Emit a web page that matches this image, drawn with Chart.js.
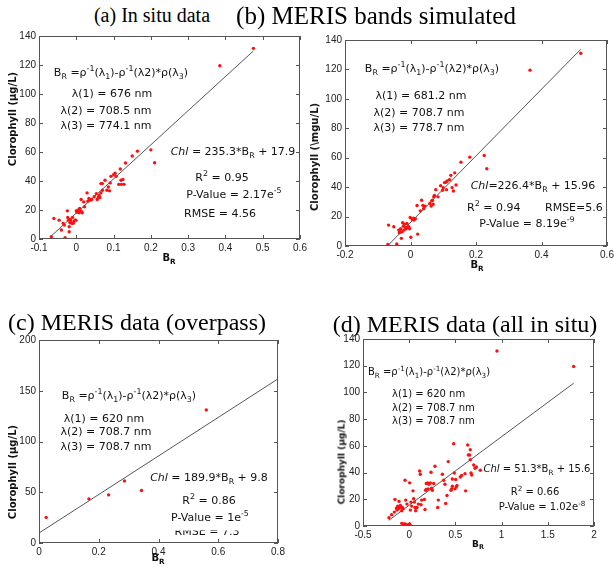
<!DOCTYPE html>
<html><head><meta charset="utf-8">
<script src="https://cdn.jsdelivr.net/npm/chart.js@4/dist/chart.umd.min.js"></script>
<style>
html,body{margin:0;padding:0;background:#fff;}
#page{position:relative;width:614px;height:569px;overflow:hidden;background:#fff;}
canvas{position:absolute;}
.t{position:absolute;white-space:nowrap;line-height:1;color:#111;width:max-content;}
.title{font-family:"Liberation Serif",serif;color:#000;}
.ann{font-family:"DejaVu Sans",sans-serif;}
.yt{font-family:"DejaVu Sans",sans-serif;font-weight:bold;}
sub,sup{font-size:72%;line-height:0;}
</style></head>
<body><div id="page"></div>
<script>
// ---------- DATA ----------
// (a) In situ data
const aBR  = [-0.067,-0.060,-0.046,-0.040,-0.035,-0.032,-0.030,-0.024,-0.023,-0.021,-0.019,-0.019,-0.017,-0.016,-0.014,-0.012,-0.010,-0.008,-0.005,-0.003,-0.001,0.000,0.002,0.004,0.008,0.009,0.013,0.016,0.013,0.020,0.022,0.029,0.031,0.034,0.038,0.041,0.048,0.054,0.056,0.059,0.061,0.063,0.066,0.070,0.066,0.070,0.077,0.082,0.086,0.089,0.091,0.093,0.100,0.104,0.107,0.114,0.118,0.120,0.121,0.125,0.128,0.132,0.150,0.164,0.200,0.210,0.385,0.475];
const aChl = [1.6,14.2,13.0,6.2,10.8,9.6,0.9,19.4,14.9,13.0,8.5,5.0,11.2,13.5,12.1,10.8,14.9,10.8,12.4,13.0,13.0,19.4,18.5,19.9,18.1,21.0,19.2,18.1,27.2,25.6,22.2,31.8,26.1,27.9,26.8,27.2,29.1,31.3,27.2,28.6,30.0,28.6,31.8,33.6,38.2,38.2,40.5,33.6,35.9,33.2,38.7,43.2,44.4,45.3,43.2,37.7,48.3,40.5,37.7,41.0,37.7,52.4,57.2,60.6,61.5,52.6,119.5,131.5];
const aFitBR = [-0.07, 0.475];
const aFitChl = [1.4, 129.7];
const aXTicks = [-0.1,0,0.1,0.2,0.3,0.4,0.5,0.6];
const aYTicks = [0,20,40,60,80,100,120,140];

// (b) MERIS bands simulated
const bBR  = [-0.069,-0.067,-0.051,-0.042,-0.040,-0.036,-0.034,-0.032,-0.030,-0.028,-0.026,-0.024,-0.022,-0.020,-0.018,-0.015,-0.013,-0.011,-0.009,-0.005,-0.003,-0.001,0.001,0.005,0.009,0.011,0.015,0.022,0.020,0.030,0.034,0.038,0.044,0.040,0.059,0.063,0.065,0.067,0.069,0.071,0.073,0.077,0.084,0.092,0.098,0.100,0.104,0.108,0.112,0.110,0.119,0.123,0.127,0.131,0.135,0.139,0.154,0.181,0.225,0.233,0.365,0.520];
const bChl = [1.1,14.2,13.1,1.4,0.0,10.8,9.0,9.7,11.7,5.2,9.7,15.8,13.5,10.8,14.9,12.6,11.7,15.3,12.6,13.1,11.7,19.4,5.9,18.0,18.9,17.6,18.5,8.1,27.5,23.9,31.1,27.5,27.1,25.3,28.9,27.1,30.7,31.1,28.4,33.4,34.3,38.3,33.4,41.0,37.9,39.7,43.1,43.3,44.2,38.3,45.1,48.0,39.7,37.4,49.7,41.5,57.0,60.4,61.5,52.5,119.5,131.0];
const bFitBR = [-0.07, 0.52];
const bFitChl = [0.1, 133.7];
const bXTicks = [-0.2,0,0.2,0.4,0.6];
const bYTicks = [0,20,40,60,80,100,120,140];

// (c) MERIS data (overpass)
const cBR  = [0.024,0.167,0.233,0.286,0.343,0.560];
const cChl = [25.2,43.5,47.4,61.2,51.7,131.0];
const cFitBR = [0, 0.8];
const cFitChl = [9.8, 161.7];
const cXTicks = [0,0.2,0.4,0.6,0.8];
const cYTicks = [0,50,100,150,200];

// (d) MERIS data (all in situ)
const dBR  = [-0.219,-0.190,-0.161,-0.154,-0.139,-0.132,-0.125,-0.118,-0.110,-0.103,-0.096,-0.089,-0.081,-0.074,-0.067,-0.045,-0.038,-0.024,0.005,0.012,0.019,0.027,0.041,0.048,0.056,0.063,0.070,0.084,0.099,0.113,0.120,0.128,0.135,0.164,0.171,0.178,0.185,0.185,0.200,0.207,0.214,0.229,0.236,0.243,0.250,0.265,0.279,0.308,0.315,0.359,0.373,0.387,0.395,0.409,0.423,0.452,0.460,0.467,0.467,0.481,0.488,0.496,0.503,0.510,0.517,0.553,0.568,0.604,0.611,0.633,0.640,0.654,0.661,0.661,0.669,0.676,0.698,0.712,0.727,0.770,-0.081,-0.060,-0.045,-0.024,-0.009,0.005,0.012,0.950,1.780];
const dChl = [6.2,8.4,10.4,19.9,13.4,11.9,14.9,12.9,18.4,13.9,15.4,14.4,11.4,13.9,12.9,34.3,19.4,16.4,32.3,11.9,17.9,14.9,26.3,20.4,17.9,13.9,11.4,13.9,16.4,41.2,38.7,15.9,19.4,19.9,12.4,26.8,27.3,31.8,32.3,27.8,31.3,32.3,40.2,28.3,26.8,31.8,44.7,13.9,19.4,38.7,34.3,31.3,16.9,22.8,48.2,26.8,27.8,35.2,29.8,61.6,39.7,27.8,34.8,29.3,30.3,36.7,37.9,39.2,26.3,60.6,53.1,53.1,57.1,49.6,39.7,38.2,45.7,43.2,44.2,41.7,2.0,1.5,1.5,1.0,0.5,1.5,0.5,131.0,119.5];
const dFitBR = [-0.22, 1.78];
const dFitChl = [4.3, 106.9];
const dXTicks = [-0.5,0,0.5,1,1.5,2];
const dYTicks = [0,20,40,60,80,100,120,140];

// ---------- LAYOUT ----------
const PAD_L = 30, PAD_T = 8, PAD_R = 14, PAD_B = 18;
const page = document.getElementById('page');

const frame = {
  id: 'frame',
  afterDraw(chart) {
    const {ctx, chartArea: a, scales} = chart;
    ctx.save();
    ctx.strokeStyle = '#555';
    ctx.lineWidth = 1;
    ctx.strokeRect(a.left + 0.5, a.top + 0.5, a.right - a.left - 1, a.bottom - a.top - 1);
    const tl = 4;
    ctx.beginPath();
    scales.x.ticks.forEach(t => {
      const p = Math.round(scales.x.getPixelForValue(t.value)) + 0.5;
      ctx.moveTo(p, a.bottom); ctx.lineTo(p, a.bottom - tl);
      ctx.moveTo(p, a.top); ctx.lineTo(p, a.top + tl);
    });
    scales.y.ticks.forEach(t => {
      const p = Math.round(scales.y.getPixelForValue(t.value)) + 0.5;
      ctx.moveTo(a.left, p); ctx.lineTo(a.left + tl, p);
      ctx.moveTo(a.right, p); ctx.lineTo(a.right - tl, p);
    });
    ctx.stroke();
    ctx.restore();
  }
};

function makePanel(rect, xs, ys, fx, fy, xt, yt) {
  const [L, T, R, B] = rect;
  const cv = document.createElement('canvas');
  const w = (R - L) + PAD_L + PAD_R, h = (B - T) + PAD_T + PAD_B;
  cv.width = w; cv.height = h;
  cv.style.left = (L - PAD_L) + 'px';
  cv.style.top = (T - PAD_T) + 'px';
  cv.style.width = w + 'px'; cv.style.height = h + 'px';
  page.appendChild(cv);
  const tickFont = {family: '"Liberation Sans", Arial, sans-serif', size: 10};
  new Chart(cv.getContext('2d'), {
    data: {
      datasets: [
        {type: 'scatter', data: xs.map((x, i) => ({x, y: ys[i]})),
         pointRadius: 1.7, pointBackgroundColor: '#ff1010', pointBorderWidth: 0, pointHoverRadius: 1.7},
        {type: 'line', data: fx.map((x, i) => ({x, y: fy[i]})),
         borderColor: '#555', borderWidth: 1, pointRadius: 0, fill: false, tension: 0}
      ]
    },
    options: {
      responsive: false, animation: false, devicePixelRatio: 1,
      layout: {padding: {left: 0, top: PAD_T, right: PAD_R, bottom: 0}, autoPadding: false},
      plugins: {legend: {display: false}, tooltip: {enabled: false}},
      events: [],
      scales: {
        x: {type: 'linear', min: xt[0], max: xt[xt.length - 1],
            afterBuildTicks: s => { s.ticks = xt.map(v => ({value: v})); },
            afterFit: s => { s.height = PAD_B; },
            grid: {display: false, drawTicks: false}, border: {display: false},
            ticks: {font: tickFont, color: '#222', padding: 3, maxRotation: 0, autoSkip: false, callback: v => String(v)}},
        y: {type: 'linear', min: yt[0], max: yt[yt.length - 1],
            afterBuildTicks: s => { s.ticks = yt.map(v => ({value: v})); },
            afterFit: s => { s.width = PAD_L; },
            grid: {display: false, drawTicks: false}, border: {display: false},
            ticks: {font: tickFont, color: '#222', padding: 3, autoSkip: false, callback: v => String(v)}}
      }
    },
    plugins: [frame]
  });
}

makePanel([39, 35, 300, 239], aBR, aChl, aFitBR, aFitChl, aXTicks, aYTicks);
makePanel([345, 39, 607, 246], bBR, bChl, bFitBR, bFitChl, bXTicks, bYTicks);
makePanel([39, 339, 278, 543], cBR, cChl, cFitBR, cFitChl, cXTicks, cYTicks);
makePanel([363, 338, 594, 526], dBR, dChl, dFitBR, dFitChl, dXTicks, dYTicks);

// ---------- TEXT ----------
function txt(html, x, y, cls, size, opts = {}) {
  const d = document.createElement('div');
  d.className = 't ' + cls;
  d.innerHTML = html;
  d.style.fontSize = size + 'px';
  d.style.left = x + 'px';
  d.style.top = y + 'px';
  let tf = opts.left ? 'translate(0,-50%)' : 'translate(-50%,-50%)';
  if (opts.rot) tf += ' rotate(-90deg)';
  d.style.transform = tf;
  if (opts.italic) d.style.fontStyle = 'italic';
  if (opts.clip) d.style.clipPath = opts.clip;
  page.appendChild(d);
}
const EQ = 'B<sub>R</sub> =&rho;<sup>-1</sup>(&lambda;<sub>1</sub>)-&rho;<sup>-1</sup>(&lambda;2)*&rho;(&lambda;<sub>3</sub>)';
const CHL = '<i>Chl</i>';

// titles
txt('(a) In situ data', 152, 15, 'title', 20);
txt('(b) MERIS bands simulated', 376, 15, 'title', 25);
txt('(c) MERIS data (overpass)', 137, 322, 'title', 24);
txt('(d) MERIS data (all in situ)', 465, 324, 'title', 24);

// axis titles
txt('Clorophyll (&mu;g/L)', 13, 119, 'yt', 10, {rot: true});
txt('Clorophyll (\\mgu/L)', 315, 157, 'yt', 10, {rot: true});
txt('Clorophyll (&mu;g/L)', 13, 472, 'yt', 10, {rot: true});
txt('Clorophyll (&mu;g/L)', 342, 462, 'yt', 9, {rot: true});
txt('B<sub>R</sub>', 169, 258, 'yt', 10);
txt('B<sub>R</sub>', 477, 265, 'yt', 10);
txt('B<sub>R</sub>', 158, 558, 'yt', 10);
txt('B<sub>R</sub>', 478, 544, 'yt', 9);

// panel a
txt(EQ, 121, 72, 'ann', 11);
txt('&lambda;(1) = 676 nm', 112, 93, 'ann', 11);
txt('&lambda;(2) = 708.5 nm', 106, 110, 'ann', 11);
txt('&lambda;(3) = 774.1 nm', 106, 124.5, 'ann', 11);
txt(CHL + ' = 235.3*B<sub>R</sub> + 17.9', 233, 151, 'ann', 11);
txt('R<sup>2</sup> = 0.95', 222, 177, 'ann', 11);
txt('P-Value = 2.17e<sup>-5</sup>', 234, 194, 'ann', 11);
txt('RMSE = 4.56', 220, 213, 'ann', 11);

// panel b
txt(EQ, 432, 68, 'ann', 11);
txt('&lambda;(1) = 681.2 nm', 421, 95, 'ann', 11);
txt('&lambda;(2) = 708.7 nm', 419, 112, 'ann', 11);
txt('&lambda;(3) = 778.7 nm', 419, 127, 'ann', 11);
txt(CHL + '=226.4*B<sub>R</sub> + 15.96', 533, 185, 'ann', 11);
txt('R<sup>2</sup> = 0.94', 467, 207, 'ann', 11, {left: true});
txt('RMSE=5.6', 545, 207, 'ann', 11, {left: true});
txt('P-Value = 8.19e<sup>-9</sup>', 527, 223, 'ann', 11);

// panel c
txt(EQ, 129, 395, 'ann', 11);
txt('&lambda;(1) = 620 nm', 104, 418, 'ann', 11);
txt('&lambda;(2) = 708.7 nm', 106, 431, 'ann', 11);
txt('&lambda;(3) = 708.7 nm', 106, 446, 'ann', 11);
txt(CHL + ' = 189.9*B<sub>R</sub> + 9.8', 209, 477, 'ann', 11);
txt('R<sup>2</sup> = 0.86', 209, 500, 'ann', 11);
txt('P-Value = 1e<sup>-5</sup>', 210, 517, 'ann', 11);
txt('RMSE = 7.3', 207, 531, 'ann', 11, {clip: 'inset(45% 0 0 0)'});

// panel d
txt(EQ, 429, 372, 'ann', 10);
txt('&lambda;(1) = 620 nm', 392, 394, 'ann', 10, {left: true});
txt('&lambda;(2) = 708.7 nm', 392, 408, 'ann', 10, {left: true});
txt('&lambda;(3) = 708.7 nm', 392, 421, 'ann', 10, {left: true});
txt(CHL + ' = 51.3*B<sub>R</sub> + 15.6', 537, 469, 'ann', 10);
txt('R<sup>2</sup> = 0.66', 535, 492, 'ann', 10);
txt('P-Value = 1.02e<sup>-8</sup>', 542, 507, 'ann', 10);
</script>
</body></html>
